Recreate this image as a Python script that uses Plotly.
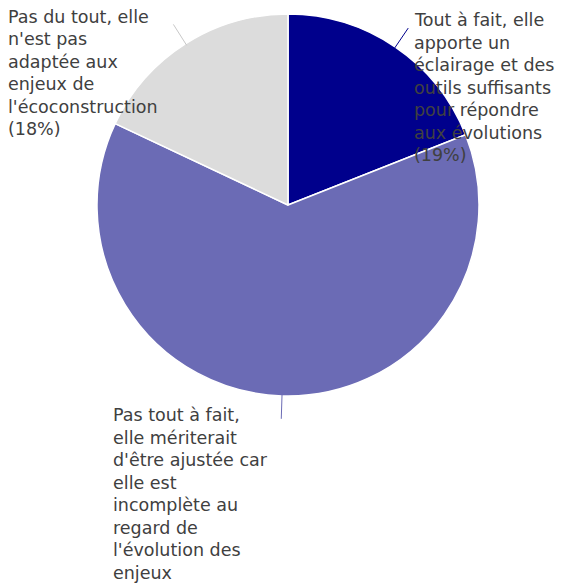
import math
import plotly.graph_objects as go

# ---- data ----
categories = [
    "Tout à fait, elle apporte un éclairage et des outils suffisants pour répondre aux évolutions",
    "Pas tout à fait, elle mériterait d'être ajustée car elle est incomplète au regard de l'évolution des enjeux",
    "Pas du tout, elle n'est pas adaptée aux enjeux de l'écoconstruction",
]
values = [19, 63, 18]
label_lines = [
    ["Tout à fait, elle", "apporte un", "éclairage et des", "outils suffisants",
     "pour répondre", "aux évolutions", "(19%)"],
    ["Pas tout à fait,", "elle mériterait", "d'être ajustée car", "elle est",
     "incomplète au", "regard de", "l'évolution des", "enjeux"],
    ["Pas du tout, elle", "n'est pas", "adaptée aux", "enjeux de",
     "l'écoconstruction", "(18%)"],
]
colors = ["#00008C", "#6B6BB5", "#DCDCDC"]

# ---- layout constants (figure pixels; page has an 8px body margin) ----
W, H = 556, 576
CX, CY, R = 280, 197, 191
label_pos = [(404, 0), (103, 395), (-2, -3)]  # left / top of each label block
LINE_H = 22.5
FONT = "DejaVu Sans"
FS = 17.5

fig = go.Figure(go.Pie(
    labels=categories,
    values=values,
    sort=False,
    direction="clockwise",
    rotation=0,
    textinfo="none",
    hoverinfo="label+percent",
    marker=dict(colors=colors, line=dict(color="white", width=1.5)),
    domain=dict(x=[(CX - R) / W, (CX + R) / W], y=[1 - (CY + R) / H, 1 - (CY - R) / H]),
    showlegend=False,
))

# leader lines along each slice's mid-angle
total = sum(values)
cum = 0
shapes = []
for v, c in zip(values, colors):
    mid = (cum + v / 2) / total * 2 * math.pi
    cum += v
    lc = "#C8C8C8" if c == "#DCDCDC" else c
    x0 = CX + R * 0.99 * math.sin(mid)
    y0 = CY - R * 0.99 * math.cos(mid)
    x1 = CX + R * 1.12 * math.sin(mid)
    y1 = CY - R * 1.12 * math.cos(mid)
    shapes.append(dict(type="line", xref="paper", yref="paper",
                       x0=x0 / W, y0=1 - y0 / H, x1=x1 / W, y1=1 - y1 / H,
                       line=dict(color=lc, width=1)))

annotations = []
for lines, (px, py) in zip(label_lines, label_pos):
    for i, ln in enumerate(lines):
        annotations.append(dict(
            text=ln, xref="paper", yref="paper", x=px / W, y=1 - (py + i * LINE_H) / H,
            xanchor="left", yanchor="top", align="left", showarrow=False,
            font=dict(family=FONT, size=FS, color="#404040"),
        ))

fig.update_layout(
    width=W, height=H,
    margin=dict(l=0, r=0, t=0, b=0),
    paper_bgcolor="white", plot_bgcolor="white",
    shapes=shapes, annotations=annotations,
)

fig.write_html("out.html")
